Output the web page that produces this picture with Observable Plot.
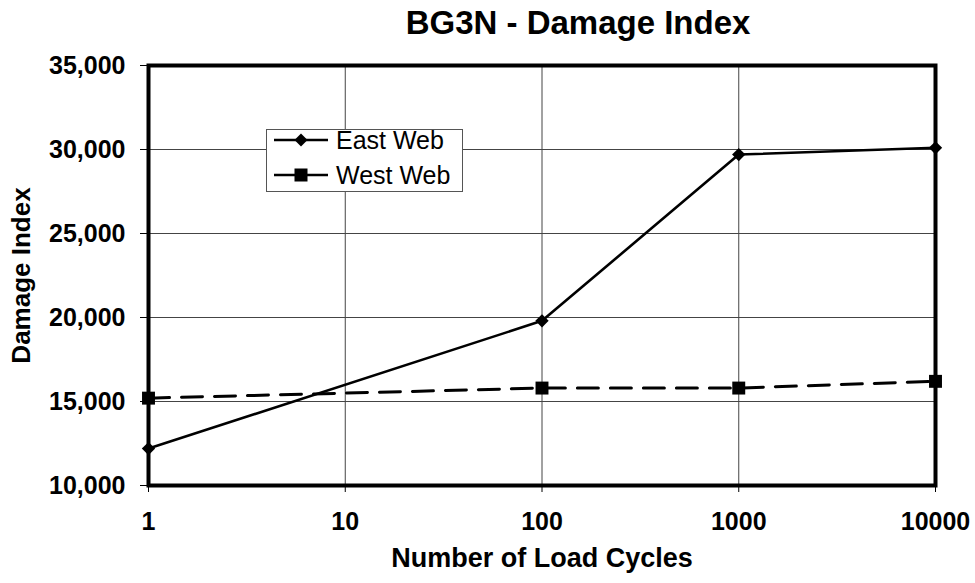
<!DOCTYPE html>
<html>
<head>
<meta charset="utf-8">
<script src="https://cdn.jsdelivr.net/npm/d3@7"></script>
<script src="https://cdn.jsdelivr.net/npm/@observablehq/plot@0.6"></script>
<style>
  html, body { margin: 0; padding: 0; background: #fff; }
  #wrap { position: relative; width: 975px; height: 583px; font-family: "Liberation Sans", Arial, sans-serif; }
  #legend { position: absolute; left: 266px; top: 129px; width: 197px; height: 63px; border: 1px solid #555; background: #fff; box-sizing: border-box; }
  .item { position: absolute; left: 6px; height: 30px; display: flex; align-items: center; font-size: 25px; line-height: 30px; color: #000; }
  .item svg { margin-right: 7px; }
</style>
</head>
<body>
<div id="wrap"></div>
<script>
const cycles = [1, 100, 1000, 10000];
const eastWeb = [12200, 19800, 29700, 30100];
const westWeb = [15200, 15800, 15800, 16200];
const xTicks = [1, 10, 100, 1000, 10000];
const yTicks = [10000, 15000, 20000, 25000, 30000, 35000];
const seriesNames = ["East Web", "West Web"];
const titleText = "BG3N - Damage Index";
const xLabel = "Number of Load Cycles";
const yLabel = "Damage Index";

const east = cycles.map((c, i) => ({x: c, y: eastWeb[i]}));
const west = cycles.map((c, i) => ({x: c, y: westWeb[i]}));

const chart = Plot.plot({
  width: 975,
  height: 583,
  marginTop: 65,
  marginBottom: 98,
  marginLeft: 148,
  marginRight: 40,
  style: {fontFamily: "Liberation Sans, Arial, sans-serif", fontSize: "25px", fontWeight: "bold", color: "#000", background: "#fff"},
  x: {type: "log", domain: [1, 10000], ticks: xTicks, tickFormat: d => String(d), tickSize: 7, tickPadding: 20, label: null},
  y: {domain: [10000, 35000], ticks: yTicks, tickFormat: d3.format(","), tickSize: 8, tickPadding: 15, label: null},
  marks: [
    Plot.ruleX(xTicks, {stroke: "#444", strokeWidth: 1}),
    Plot.ruleY(yTicks, {stroke: "#444", strokeWidth: 1}),
    Plot.line(west, {x: "x", y: "y", stroke: "black", strokeWidth: 3, strokeDasharray: "21,12"}),
    Plot.line(east, {x: "x", y: "y", stroke: "black", strokeWidth: 2.6}),
    Plot.dot(west, {x: "x", y: "y", symbol: "square", r: 7.3, fill: "black"}),
    Plot.dot(east, {x: "x", y: "y", symbol: "diamond2", r: 6, fill: "black"}),
    Plot.frame({stroke: "black", strokeWidth: 4}),
    Plot.text([titleText], {frameAnchor: "top", lineAnchor: "middle", dx: 36, dy: -42, fontSize: 33, fontWeight: "bold", fill: "black"}),
    Plot.text([xLabel], {frameAnchor: "bottom", lineAnchor: "middle", dy: 73, fontSize: 27, fontWeight: "bold", fill: "black"}),
    Plot.text([yLabel], {frameAnchor: "left", textAnchor: "middle", lineAnchor: "middle", dx: -127, rotate: -90, fontSize: 26, fontWeight: "bold", fill: "black"})
  ]
});
document.getElementById("wrap").appendChild(chart);

const legend = document.createElement("div");
legend.id = "legend";
const sym = [
  '<svg width="56" height="14"><line x1="1" y1="7" x2="55" y2="7" stroke="black" stroke-width="2.6"/><path d="M28,0.5 L34.5,7 L28,13.5 L21.5,7 Z" fill="black"/></svg>',
  '<svg width="56" height="14"><line x1="1" y1="7" x2="55" y2="7" stroke="black" stroke-width="2.6"/><rect x="21.5" y="0.5" width="13" height="13" fill="black"/></svg>'
];
seriesNames.forEach((n, i) => {
  const d = document.createElement("div");
  d.className = "item";
  d.style.top = (i === 0 ? -5 : 30) + "px";
  d.innerHTML = sym[i] + "<span>" + n + "</span>";
  legend.appendChild(d);
});
document.getElementById("wrap").appendChild(legend);
</script>
</body>
</html>
